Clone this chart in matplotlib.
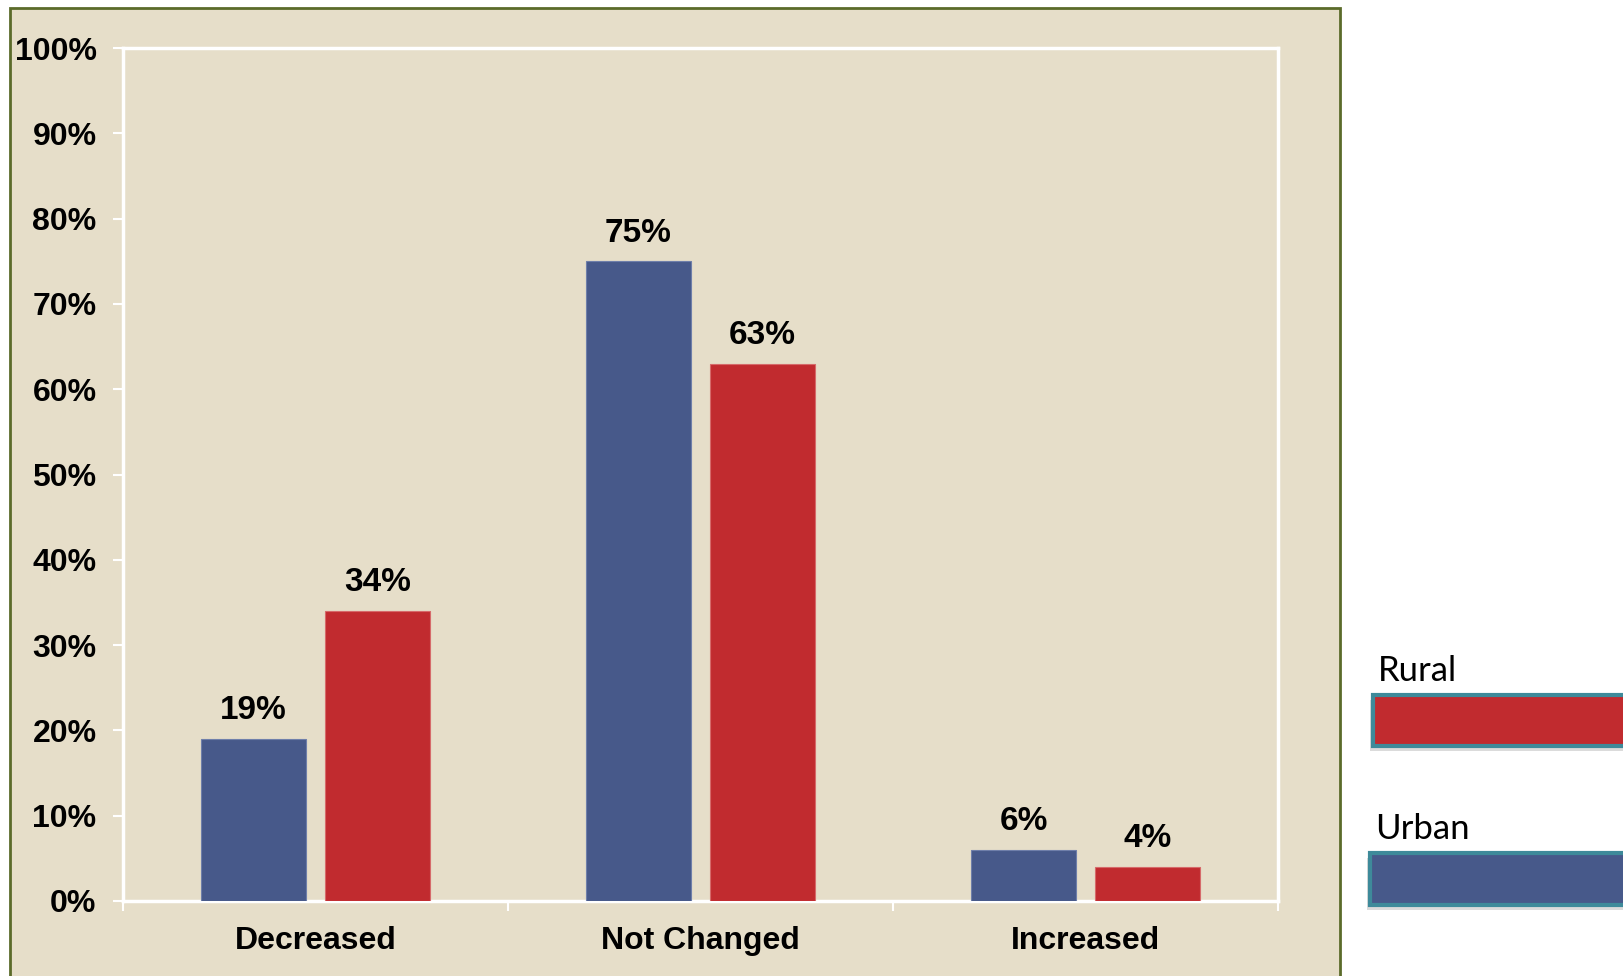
import matplotlib
matplotlib.use("Agg")
import matplotlib.pyplot as plt
import matplotlib.ticker as mticker
from matplotlib.patches import Rectangle
import numpy as np

categories = ["Decreased", "Not Changed", "Increased"]
urban = [19, 75, 6]
rural = [34, 63, 4]
series_names = ["Rural", "Urban"]

BEIGE = "#E6DEC9"
BLUE = "#47598A"
RED = "#C12B2F"
TEAL = "#3E8A9A"

W, H = 1623, 976
fig = plt.figure(figsize=(W / 100, H / 100), dpi=100)
fig.patch.set_facecolor("white")


def px(x0, y0, x1, y1):
    # pixel box (top-left origin) -> figure fraction (left, bottom, width, height)
    return x0 / W, 1 - y1 / H, (x1 - x0) / W, (y1 - y0) / H


# beige panel behind the chart
l, b, w, h = px(10, 8, 1340, 990)
fig.patches.append(Rectangle((l, b), w, h, transform=fig.transFigure,
                             facecolor=BEIGE, edgecolor="#5B6B2A", linewidth=2, zorder=-5))

ax = fig.add_axes(px(123, 48, 1278, 901))
ax.set_zorder(2)
ax.set_facecolor("none")

x = np.arange(len(categories))
bw = 0.273
off = 0.161
b1 = ax.bar(x - off, urban, bw, color=BLUE, edgecolor="#6F7FAA", linewidth=0.8, zorder=3)
b2 = ax.bar(x + off, rural, bw, color=RED, edgecolor="#D66A6A", linewidth=0.8, zorder=3)

for bars, vals in ((b1, urban), (b2, rural)):
    for r, v in zip(bars, vals):
        ax.annotate(f"{v}%", (r.get_x() + r.get_width() / 2, v),
                    xytext=(0, 9), textcoords="offset points",
                    ha="center", va="bottom", fontsize=24, fontweight="bold",
                    family="Liberation Sans")

ax.set_xlim(-0.5, len(categories) - 0.5)
ax.set_ylim(0, 100)
ax.yaxis.set_major_locator(mticker.MultipleLocator(10))
ax.yaxis.set_major_formatter(mticker.FuncFormatter(lambda v, p: f"{v:.0f}%"))

ax.set_xticks(x)
ax.set_xticklabels(categories)
ax.set_xticks(np.arange(-0.5, len(categories)), minor=True)
ax.tick_params(axis="x", which="major", length=0, pad=18)
ax.tick_params(axis="x", which="minor", length=7, width=1.5, color="white", direction="out")
ax.tick_params(axis="y", length=7, width=1.5, color="white", direction="out", pad=12)

for lab in ax.get_yticklabels():
    lab.set_fontsize(23)
    lab.set_fontweight("bold")
    lab.set_family("Liberation Sans")
for lab in ax.get_xticklabels():
    lab.set_fontsize(23)
    lab.set_fontweight("bold")
    lab.set_family("Liberation Sans")

for s in ax.spines.values():
    s.set_color("white")
    s.set_linewidth(2.5)

# legend drawn as labelled swatches on the right
legend_boxes = [(1373, 695, 1660, 746), (1370, 853, 1660, 905)]
legend_colors = [RED, BLUE]
for name, (x0, y0, x1, y1), c in zip(series_names, legend_boxes, legend_colors):
    sl, sb, sw, sh = px(x0 - 3, y0 + 5, x1, y1 + 5)
    fig.patches.append(Rectangle((sl, sb), sw, sh, transform=fig.transFigure,
                                 facecolor="#999999", alpha=0.35, edgecolor="none", zorder=1))
    l, b, w, h = px(x0, y0, x1, y1)
    fig.patches.append(Rectangle((l, b), w, h, transform=fig.transFigure,
                                 facecolor=c, edgecolor=TEAL, linewidth=3, zorder=2))
    fig.text((x0 + 5) / W, 1 - (y0 - 14) / H, name, fontsize=25, family="Lato",
             ha="left", va="baseline")

fig.savefig("out.png", dpi=100)
